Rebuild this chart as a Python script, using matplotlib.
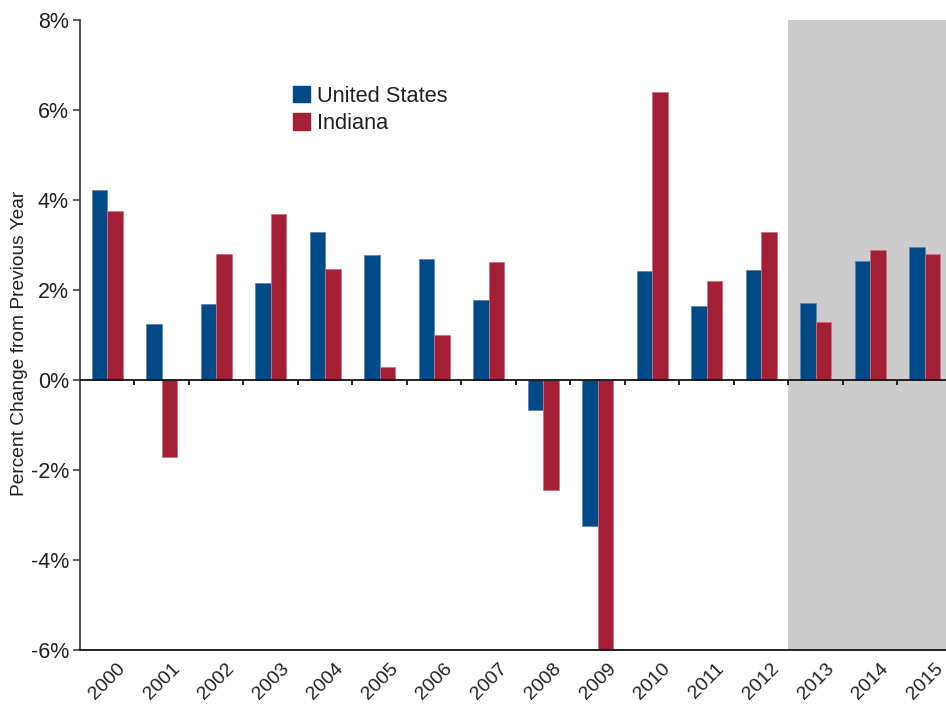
import numpy as np
import matplotlib.pyplot as plt
from matplotlib.patches import Patch

years = [str(y) for y in range(2000, 2016)]
us = [4.22, 1.24, 1.70, 2.15, 3.30, 2.78, 2.68, 1.78, -0.66, -3.25, 2.42, 1.65, 2.45, 1.72, 2.65, 2.95]
indiana = [3.75, -1.70, 2.79, 3.70, 2.46, 0.30, 0.99, 2.62, -2.45, -6.00, 6.40, 2.20, 3.30, 1.30, 2.90, 2.80]
forecast_start = 2013

blue = '#004b87'
red = '#a31f36'
text_col = '#231f20'

plt.rcParams['font.family'] = ['Liberation Sans', 'DejaVu Sans']

fig = plt.figure(figsize=(9.46, 7.07), dpi=100)
ax = fig.add_axes([80 / 946, 57 / 707, 866 / 946, 630 / 707])

x = np.arange(len(years))
w = 0.285
ax.axvspan(years.index(str(forecast_start)) - 0.5, 20, color='#cccccc', lw=0, zorder=0)
ax.bar(x - w / 2, us, w, color=blue, edgecolor='#5f86b0', linewidth=0.6, zorder=2)
ax.bar(x + w / 2, indiana, w, color=red, edgecolor='#d0707f', linewidth=0.6, zorder=2)

# zero line with small ticks between year groups
ax.axhline(0, color='#111111', lw=1.3, zorder=3)
ax.vlines(np.arange(0.5, len(years) - 1, 1), -0.12, 0, color='#111111', lw=1.3, zorder=3)

ax.set_xlim(-0.5, 15.39)
ax.set_ylim(-6, 8)
ax.set_yticks(np.arange(-6, 9, 2))
ax.set_yticklabels([f'{v}%' for v in range(-6, 9, 2)], fontsize=15.5, color=text_col)
ax.set_xticks(x)
ax.set_xticklabels(years, rotation=45, ha='center', fontsize=14, color=text_col)
ax.tick_params(axis='x', length=0, pad=7)
ax.tick_params(axis='y', length=5, width=1.2, color='#444444', pad=3)

for s in ['top', 'right']:
    ax.spines[s].set_visible(False)
ax.spines['left'].set_color('#444444')
ax.spines['left'].set_linewidth(1.3)
ax.spines['bottom'].set_color('#111111')
ax.spines['bottom'].set_linewidth(1.3)
ax.spines['bottom'].set_zorder(4)

ax.set_ylabel('Percent Change from Previous Year', fontsize=13.8, color=text_col)
ax.yaxis.set_label_coords(-52 / 866, 0.487)

handles = [Patch(color=blue, label='United States'), Patch(color=red, label='Indiana')]
fig.legend(handles=handles, loc='upper left', bbox_to_anchor=(273 / 946, 1 - 66 / 707),
           frameon=False, fontsize=15.7, handlelength=0.8, handleheight=0.8,
           handletextpad=0.3, labelspacing=0.3, labelcolor=text_col)

fig.savefig('out.png', dpi=100)
